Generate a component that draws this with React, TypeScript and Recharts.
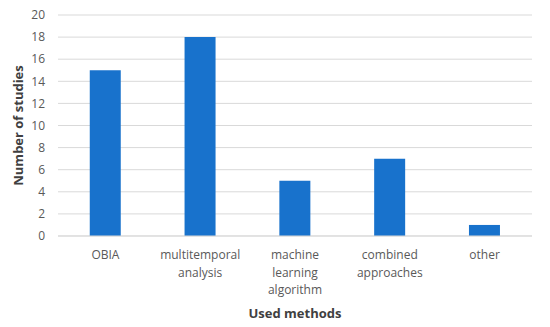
import React from 'react';
import { BarChart, Bar, XAxis, YAxis, CartesianGrid } from 'recharts';

const categories = ['OBIA', 'multitemporal analysis', 'machine learning algorithm', 'combined approaches', 'other'];
const studies = [15, 18, 5, 7, 1];
const tickLines = [['OBIA'], ['multitemporal', 'analysis'], ['machine', 'learning', 'algorithm'], ['combined', 'approaches'], ['other']];
const yTicks = [0, 2, 4, 6, 8, 10, 12, 14, 16, 18, 20];

const data = categories.map((name, i) => ({ name, studies: studies[i], lines: tickLines[i] }));

const FONT = '"Open Sans", "Noto Sans", sans-serif';

const CategoryTick = (props: any) => {
  const { x, y, index } = props;
  const lines = tickLines[index] || [];
  return (
    <g>
      {lines.map((l: string, i: number) => (
        <text
          key={i}
          x={x}
          y={y + 19 + i * 17.5}
          dy="0.35em"
          textAnchor="middle"
          fill="#595959"
          fontSize={12}
          fontFamily={FONT}
        >
          {l}
        </text>
      ))}
    </g>
  );
};

const YTitle = (props: any) => {
  const { viewBox } = props;
  const cy = viewBox.y + viewBox.height / 2;
  return (
    <text
      x={18}
      y={cy}
      transform={`rotate(-90, 18, ${cy})`}
      textAnchor="middle"
      dominantBaseline="central"
      fill="#404040"
      fontSize={13}
      fontWeight="bold"
      fontFamily={FONT}
    >
      Number of studies
    </text>
  );
};

const XTitle = (props: any) => {
  const { viewBox } = props;
  const cx = viewBox.x + viewBox.width / 2;
  return (
    <text
      x={cx}
      y={313}
      textAnchor="middle"
      dominantBaseline="central"
      fill="#404040"
      fontSize={13}
      fontWeight="bold"
      fontFamily={FONT}
    >
      Used methods
    </text>
  );
};

export default function App() {
  return (
    <div style={{ position: 'absolute', left: 0, top: 0, width: 550, height: 327, background: '#fff' }}>
      <BarChart
        width={550}
        height={327}
        data={data}
        margin={{ top: 15, right: 18, left: 0, bottom: 0 }}
        barCategoryGap="33.5%"
      >
        <CartesianGrid vertical={false} stroke="#d9d9d9" />
        <XAxis
          dataKey="name"
          height={91}
          tickLine={false}
          tickSize={0}
          tickMargin={0}
          axisLine={{ stroke: '#d9d9d9' }}
          interval={0}
          tick={<CategoryTick />}
          label={<XTitle />}
        />
        <YAxis
          width={58}
          domain={[0, 20]}
          ticks={yTicks}
          interval={0}
          tickLine={false}
          tickSize={0}
          tickMargin={13}
          axisLine={false}
          tick={{ fill: '#595959', fontSize: 12, fontFamily: FONT }}
          label={<YTitle />}
        />
        <Bar dataKey="studies" fill="#1872CC" isAnimationActive={false} />
      </BarChart>
    </div>
  );
}
